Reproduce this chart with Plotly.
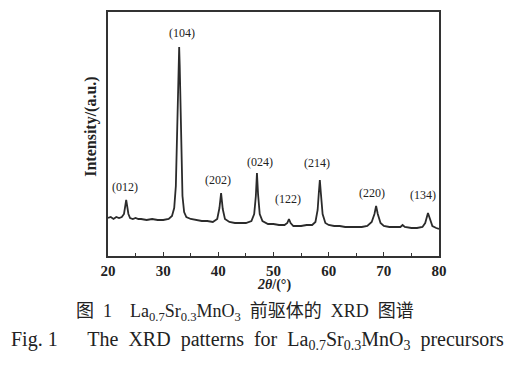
import plotly.graph_objects as go

# 2theta (deg) and intensity (a.u.)
two_theta = [20.0, 20.5, 21.0, 21.5, 22.0, 22.5, 22.9, 23.1, 23.3, 23.5, 23.7, 24.0, 24.5, 25.0, 25.5,
             26.0, 27.0, 28.0, 29.0, 30.0, 31.0, 31.6, 32.0, 32.3, 32.6, 32.8, 32.9, 33.0, 33.2, 33.5,
             33.8, 34.2, 35.0, 36.0, 37.0, 38.0, 39.0, 39.8, 40.2, 40.5, 40.8, 41.2, 42.0, 43.0, 44.0,
             45.0, 46.0, 46.5, 46.8, 47.0, 47.2, 47.5, 48.0, 49.0, 50.0, 51.0, 52.0, 52.5, 52.8, 53.1,
             53.6, 55.0, 56.0, 57.0, 57.6, 58.0, 58.2, 58.4, 58.6, 58.9, 59.4, 60.0, 61.0, 62.0, 63.0,
             64.0, 65.0, 66.0, 67.0, 67.8, 68.3, 68.6, 68.9, 69.4, 70.0, 71.0, 72.0, 73.0, 73.4, 73.8,
             75.0, 76.0, 77.0, 77.5, 78.0, 78.4, 78.8, 79.5, 80.0]
intensity = [38, 39, 37, 39, 38, 39, 42, 50, 56, 49, 42, 38, 37, 38, 37,
             37, 36, 37, 36, 36, 37, 40, 48, 70, 130, 195, 209, 190, 120, 60,
             44, 39, 37, 36, 35, 35, 34, 37, 48, 63, 47, 37, 34, 33, 33,
             33, 35, 42, 60, 83, 62, 42, 35, 32, 32, 31, 31, 33, 37, 33,
             30, 30, 31, 31, 34, 46, 62, 76, 62, 42, 33, 31, 30, 30, 29,
             29, 29, 29, 30, 34, 42, 50, 42, 33, 30, 29, 29, 29, 31, 29,
             28, 28, 29, 33, 43, 36, 30, 28, 27]

peak_labels = ["(012)", "(104)", "(202)", "(024)", "(122)", "(214)", "(220)", "(134)"]
peak_label_x = [23.0, 33.5, 40.0, 47.6, 52.7, 57.8, 67.8, 77.1]
peak_label_y = [69, 223, 76, 94, 57, 93, 63, 61]

x_ticks = [20, 30, 40, 50, 60, 70, 80]

SERIF = "Liberation Serif, Times New Roman, serif"
CJK = "Liberation Serif, Noto Sans CJK SC, serif"

fig = go.Figure()
fig.add_trace(go.Scatter(x=two_theta, y=intensity, mode="lines",
                         line=dict(color="#2b2b2b", width=1.8), showlegend=False,
                         hoverinfo="skip"))

for t, px, py in zip(peak_labels, peak_label_x, peak_label_y):
    fig.add_annotation(x=px, y=py, xref="x", yref="y", text=t, showarrow=False,
                       xanchor="center", yanchor="middle",
                       font=dict(family=SERIF, size=12, color="#222"))

# page body has an 8px margin, so the figure is 8px smaller and margins 8px less
fig.update_layout(
    template="none",
    width=511, height=358,
    margin=dict(l=100, r=80, t=4, b=110, autoexpand=False),
    paper_bgcolor="white", plot_bgcolor="white",
    xaxis=dict(range=[20, 80], tickvals=x_ticks, ticktext=["<b>%d</b>" % v for v in x_ticks],
               automargin=False,
               showgrid=False, zeroline=False, showline=True, mirror=True,
               linecolor="#333", linewidth=1.5, ticks="inside", ticklen=4,
               tickcolor="#333", tickwidth=1.2,
               minor=dict(tickvals=[25, 35, 45, 55, 65, 75], ticks="inside",
                          ticklen=3, tickcolor="#333", tickwidth=1.2),
               tickfont=dict(family=SERIF, size=15, color="#222")),
    yaxis=dict(range=[0, 244], showticklabels=False, ticks="", showgrid=False, automargin=False,
               zeroline=False, showline=True, mirror=True, linecolor="#333", linewidth=1.5),
)

# axis titles
fig.add_annotation(xref="paper", yref="paper", x=0.50, y=-0.118, xanchor="center", yanchor="middle",
                   text="<b><i>2θ</i>/(°)</b>", showarrow=False,
                   font=dict(family=SERIF, size=14, color="#222"))
fig.add_annotation(xref="paper", yref="paper", x=-0.051, y=0.53, xanchor="center", yanchor="middle",
                   textangle=-90, text="<b>Intensity/(a.u.)</b>", showarrow=False,
                   font=dict(family=SERIF, size=16, color="#222"))

# captions
fig.add_annotation(xref="paper", yref="paper", x=0.414, y=-0.232, xanchor="center", yanchor="middle",
                   text="图  1    La<sub>0.7</sub>Sr<sub>0.3</sub>MnO<sub>3</sub>  前驱体的  XRD  图谱",
                   showarrow=False, font=dict(family=CJK, size=18, color="#222"))
fig.add_annotation(xref="paper", yref="paper", x=0.453, y=-0.346, xanchor="center", yanchor="middle",
                   text="Fig. 1      The  XRD  patterns  for  La<sub>0.7</sub>Sr<sub>0.3</sub>MnO<sub>3</sub>  precursors",
                   showarrow=False, font=dict(family=SERIF, size=20, color="#222"))

fig.write_html("out.html")
